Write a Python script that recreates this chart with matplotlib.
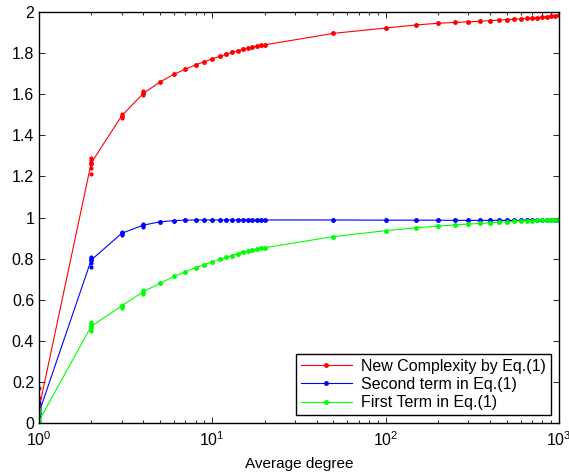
import matplotlib
matplotlib.use("Agg")
import matplotlib.pyplot as plt
from matplotlib.ticker import LogLocator, NullFormatter

plt.rcParams['font.family'] = ['Liberation Sans', 'DejaVu Sans']

degrees = [1, 2, 3, 4, 5, 6, 7, 8, 9, 10, 11, 12, 13, 14, 15, 16, 17, 18, 19, 20,
           50, 100, 150, 200, 250, 300, 350, 400, 450, 500,
           550, 600, 650, 700, 750, 800, 850, 900, 950, 1000]

new_complexity = [0.07, 1.265, 1.495, 1.604, 1.660, 1.697, 1.722, 1.743, 1.758, 1.772,
                  1.784, 1.794, 1.803, 1.811, 1.818, 1.824, 1.829, 1.834, 1.837, 1.840,
                  1.896, 1.922, 1.937, 1.945, 1.949, 1.952, 1.955, 1.958, 1.960, 1.963,
                  1.965, 1.967, 1.969, 1.971, 1.973, 1.975, 1.977, 1.979, 1.981, 1.984]

second_term = [0.05, 0.793, 0.923, 0.963, 0.979, 0.985, 0.987, 0.988, 0.988, 0.988,
               0.988, 0.988, 0.988, 0.988, 0.988, 0.988, 0.988, 0.988, 0.988, 0.988,
               0.988, 0.987, 0.987, 0.987, 0.986, 0.986, 0.986, 0.986, 0.986, 0.986,
               0.986, 0.986, 0.986, 0.986, 0.986, 0.986, 0.986, 0.986, 0.986, 0.986]

first_term = [0.01, 0.470, 0.570, 0.639, 0.680, 0.713, 0.736, 0.756, 0.771, 0.784,
              0.796, 0.806, 0.815, 0.823, 0.830, 0.836, 0.842, 0.846, 0.850, 0.853,
              0.907, 0.936, 0.950, 0.958, 0.964, 0.968, 0.971, 0.974, 0.977, 0.979,
              0.981, 0.983, 0.984, 0.985, 0.986, 0.987, 0.988, 0.989, 0.990, 0.991]

# spread of individual runs at low degrees
spread_x = [1, 1, 1, 1, 2, 2, 2, 2, 2, 3, 3, 4, 4]
new_spread = [0.05, 0.08, 0.12, 0.17, 1.21, 1.24, 1.26, 1.28, 1.29, 1.485, 1.505, 1.595, 1.615]
second_spread = [0.03, 0.05, 0.07, 0.095, 0.76, 0.78, 0.80, 0.805, 0.81, 0.915, 0.93, 0.955, 0.97]
first_spread = [0.0, 0.02, 0.05, 0.07, 0.45, 0.46, 0.48, 0.485, 0.49, 0.56, 0.575, 0.63, 0.645]

labels = ['New Complexity by Eq.(1)', 'Second term in Eq.(1)', 'First Term in Eq.(1)']
colors = ['#ff0000', '#0000ff', '#00ff00']

fig = plt.figure(figsize=(5.69, 4.72), dpi=100)
ax = fig.add_axes([39/569, 1 - 423/472, 520/569, 411/472])

for ys, sp, c, lab in zip([new_complexity, second_term, first_term],
                          [new_spread, second_spread, first_spread], colors, labels):
    ax.plot(degrees, ys, color=c, lw=0.8, marker='.', ms=5, label=lab)
    ax.plot(spread_x, sp, color=c, lw=0, marker='.', ms=4)

ax.set_xscale('log')
ax.set_xlim(1, 1000)
ax.set_ylim(0, 2)
ax.set_yticks([0, 0.2, 0.4, 0.6, 0.8, 1, 1.2, 1.4, 1.6, 1.8, 2])
ax.set_yticklabels(['0', '0.2', '0.4', '0.6', '0.8', '1', '1.2', '1.4', '1.6', '1.8', '2'])
ax.xaxis.set_minor_locator(LogLocator(base=10, subs=range(2, 10), numticks=20))
ax.xaxis.set_minor_formatter(NullFormatter())
ax.tick_params(which='both', direction='in', top=True, right=True, labelsize=11.5)
ax.tick_params(axis='x', pad=5)
ax.tick_params(which='major', length=4, width=0.6)
ax.tick_params(which='minor', length=2.5, width=0.6)
for s in ax.spines.values():
    s.set_linewidth(1.0)
ax.set_xlabel('Average degree', fontsize=11, labelpad=6)

leg = ax.legend(loc='lower right', fontsize=11.5, frameon=True, fancybox=False,
                edgecolor='black', framealpha=1, handlelength=3.2, borderpad=0.3,
                labelspacing=0.2, borderaxespad=0.5, handletextpad=0.6)
leg.get_frame().set_linewidth(1.0)

fig.savefig('out.png', dpi=100)
